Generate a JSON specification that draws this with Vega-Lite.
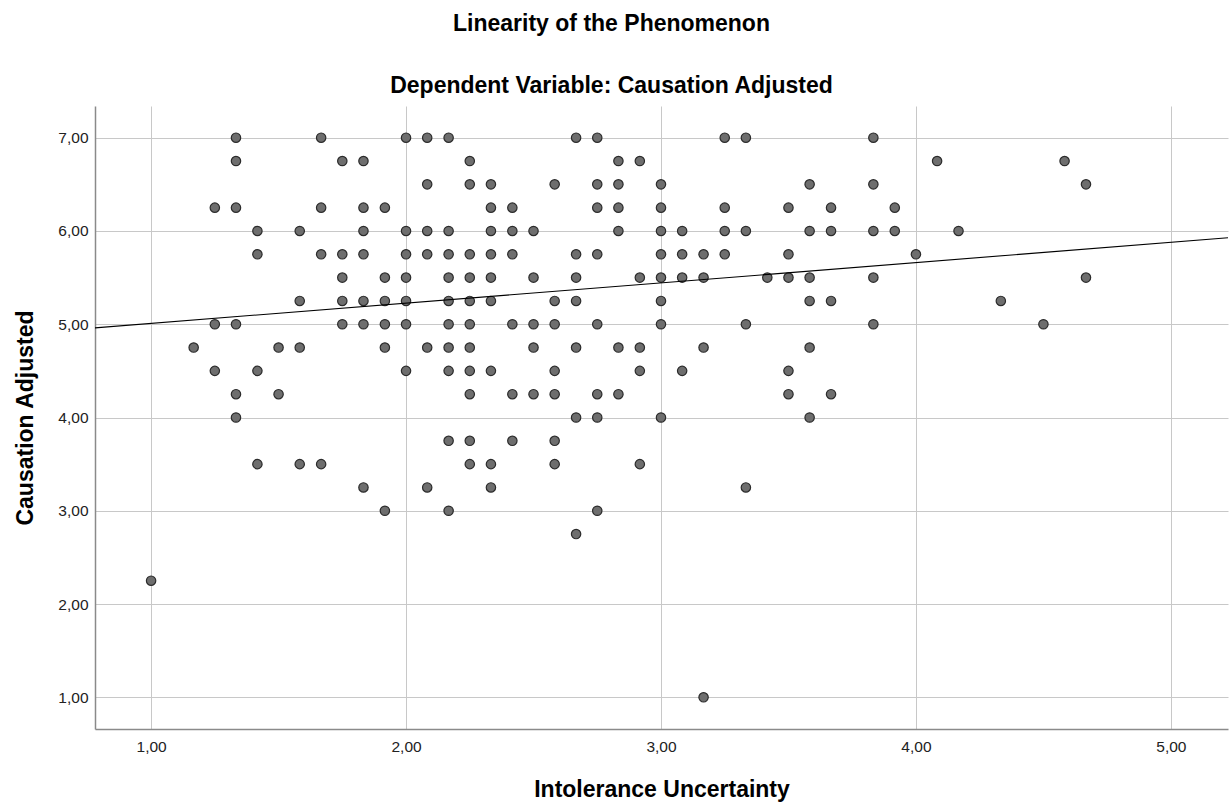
{
  "$schema": "https://vega.github.io/schema/vega-lite/v6.json",
  "width": 1133,
  "height": 623,
  "autosize": {"type": "none"},
  "padding": {"left": 95, "top": 106, "right": 2, "bottom": 77},
  "background": "white",
  "config": {
    "view": {"stroke": null},
    "font": "Liberation Sans"
  },
  "title": {
    "text": "Linearity of the Phenomenon",
    "subtitle": "Dependent Variable: Causation Adjusted",
    "anchor": "middle",
    "dx": -50,
    "offset": 8,
    "font": "Liberation Sans",
    "fontSize": 23,
    "fontWeight": "bold",
    "color": "#000000",
    "subtitleFont": "Liberation Sans",
    "subtitleFontSize": 23,
    "subtitleFontWeight": "bold",
    "subtitleColor": "#000000",
    "subtitlePadding": 39
  },
  "datasets": {
    "points": [
      {"iu":1.333,"ca":7},{"iu":1.667,"ca":7},{"iu":2.0,"ca":7},{"iu":2.083,"ca":7},{"iu":2.167,"ca":7},{"iu":2.667,"ca":7},{"iu":2.75,"ca":7},{"iu":3.25,"ca":7},{"iu":3.333,"ca":7},{"iu":3.833,"ca":7},
      {"iu":1.333,"ca":6.75},{"iu":1.75,"ca":6.75},{"iu":1.833,"ca":6.75},{"iu":2.25,"ca":6.75},{"iu":2.833,"ca":6.75},{"iu":2.917,"ca":6.75},{"iu":4.083,"ca":6.75},{"iu":4.583,"ca":6.75},
      {"iu":2.083,"ca":6.5},{"iu":2.25,"ca":6.5},{"iu":2.333,"ca":6.5},{"iu":2.583,"ca":6.5},{"iu":2.75,"ca":6.5},{"iu":2.833,"ca":6.5},{"iu":3.0,"ca":6.5},{"iu":3.583,"ca":6.5},{"iu":3.833,"ca":6.5},{"iu":4.667,"ca":6.5},
      {"iu":1.25,"ca":6.25},{"iu":1.333,"ca":6.25},{"iu":1.667,"ca":6.25},{"iu":1.833,"ca":6.25},{"iu":1.917,"ca":6.25},{"iu":2.333,"ca":6.25},{"iu":2.417,"ca":6.25},{"iu":2.75,"ca":6.25},{"iu":2.833,"ca":6.25},{"iu":3.0,"ca":6.25},{"iu":3.25,"ca":6.25},{"iu":3.5,"ca":6.25},{"iu":3.667,"ca":6.25},{"iu":3.917,"ca":6.25},
      {"iu":1.417,"ca":6},{"iu":1.583,"ca":6},{"iu":1.833,"ca":6},{"iu":2.0,"ca":6},{"iu":2.083,"ca":6},{"iu":2.167,"ca":6},{"iu":2.333,"ca":6},{"iu":2.417,"ca":6},{"iu":2.5,"ca":6},{"iu":2.833,"ca":6},{"iu":3.0,"ca":6},{"iu":3.083,"ca":6},{"iu":3.25,"ca":6},{"iu":3.333,"ca":6},{"iu":3.583,"ca":6},{"iu":3.667,"ca":6},{"iu":3.833,"ca":6},{"iu":3.917,"ca":6},{"iu":4.167,"ca":6},
      {"iu":1.417,"ca":5.75},{"iu":1.667,"ca":5.75},{"iu":1.75,"ca":5.75},{"iu":1.833,"ca":5.75},{"iu":2.0,"ca":5.75},{"iu":2.083,"ca":5.75},{"iu":2.167,"ca":5.75},{"iu":2.25,"ca":5.75},{"iu":2.333,"ca":5.75},{"iu":2.417,"ca":5.75},{"iu":2.667,"ca":5.75},{"iu":2.75,"ca":5.75},{"iu":3.0,"ca":5.75},{"iu":3.083,"ca":5.75},{"iu":3.167,"ca":5.75},{"iu":3.25,"ca":5.75},{"iu":3.5,"ca":5.75},{"iu":4.0,"ca":5.75},
      {"iu":1.75,"ca":5.5},{"iu":1.917,"ca":5.5},{"iu":2.0,"ca":5.5},{"iu":2.167,"ca":5.5},{"iu":2.25,"ca":5.5},{"iu":2.333,"ca":5.5},{"iu":2.5,"ca":5.5},{"iu":2.667,"ca":5.5},{"iu":2.917,"ca":5.5},{"iu":3.0,"ca":5.5},{"iu":3.083,"ca":5.5},{"iu":3.167,"ca":5.5},{"iu":3.417,"ca":5.5},{"iu":3.5,"ca":5.5},{"iu":3.583,"ca":5.5},{"iu":3.833,"ca":5.5},{"iu":4.667,"ca":5.5},
      {"iu":1.583,"ca":5.25},{"iu":1.75,"ca":5.25},{"iu":1.833,"ca":5.25},{"iu":1.917,"ca":5.25},{"iu":2.0,"ca":5.25},{"iu":2.167,"ca":5.25},{"iu":2.25,"ca":5.25},{"iu":2.333,"ca":5.25},{"iu":2.583,"ca":5.25},{"iu":2.667,"ca":5.25},{"iu":3.0,"ca":5.25},{"iu":3.583,"ca":5.25},{"iu":3.667,"ca":5.25},{"iu":4.333,"ca":5.25},
      {"iu":1.25,"ca":5},{"iu":1.333,"ca":5},{"iu":1.75,"ca":5},{"iu":1.833,"ca":5},{"iu":1.917,"ca":5},{"iu":2.0,"ca":5},{"iu":2.167,"ca":5},{"iu":2.25,"ca":5},{"iu":2.417,"ca":5},{"iu":2.5,"ca":5},{"iu":2.583,"ca":5},{"iu":2.75,"ca":5},{"iu":3.0,"ca":5},{"iu":3.333,"ca":5},{"iu":3.833,"ca":5},{"iu":4.5,"ca":5},
      {"iu":1.167,"ca":4.75},{"iu":1.5,"ca":4.75},{"iu":1.583,"ca":4.75},{"iu":1.917,"ca":4.75},{"iu":2.083,"ca":4.75},{"iu":2.167,"ca":4.75},{"iu":2.25,"ca":4.75},{"iu":2.5,"ca":4.75},{"iu":2.667,"ca":4.75},{"iu":2.833,"ca":4.75},{"iu":2.917,"ca":4.75},{"iu":3.167,"ca":4.75},{"iu":3.583,"ca":4.75},
      {"iu":1.25,"ca":4.5},{"iu":1.417,"ca":4.5},{"iu":2.0,"ca":4.5},{"iu":2.167,"ca":4.5},{"iu":2.25,"ca":4.5},{"iu":2.333,"ca":4.5},{"iu":2.583,"ca":4.5},{"iu":2.917,"ca":4.5},{"iu":3.083,"ca":4.5},{"iu":3.5,"ca":4.5},
      {"iu":1.333,"ca":4.25},{"iu":1.5,"ca":4.25},{"iu":2.25,"ca":4.25},{"iu":2.417,"ca":4.25},{"iu":2.5,"ca":4.25},{"iu":2.583,"ca":4.25},{"iu":2.75,"ca":4.25},{"iu":2.833,"ca":4.25},{"iu":3.5,"ca":4.25},{"iu":3.667,"ca":4.25},
      {"iu":1.333,"ca":4},{"iu":2.667,"ca":4},{"iu":2.75,"ca":4},{"iu":3.0,"ca":4},{"iu":3.583,"ca":4},
      {"iu":2.167,"ca":3.75},{"iu":2.25,"ca":3.75},{"iu":2.417,"ca":3.75},{"iu":2.583,"ca":3.75},
      {"iu":1.417,"ca":3.5},{"iu":1.583,"ca":3.5},{"iu":1.667,"ca":3.5},{"iu":2.25,"ca":3.5},{"iu":2.333,"ca":3.5},{"iu":2.583,"ca":3.5},{"iu":2.917,"ca":3.5},
      {"iu":1.833,"ca":3.25},{"iu":2.083,"ca":3.25},{"iu":2.333,"ca":3.25},{"iu":3.333,"ca":3.25},
      {"iu":1.917,"ca":3},{"iu":2.167,"ca":3},{"iu":2.75,"ca":3},
      {"iu":2.667,"ca":2.75},
      {"iu":1.0,"ca":2.25},
      {"iu":3.167,"ca":1}
    ],
    "fit": [
      {"iu":0.78,"ca":4.961},
      {"iu":5.224,"ca":5.927}
    ]
  },
  "encoding": {
    "x": {
      "field": "iu",
      "type": "quantitative",
      "title": "Intolerance Uncertainty",
      "scale": {"domain": [0.78, 5.224], "nice": false, "zero": false},
      "axis": {
        "values": [1, 2, 3, 4, 5],
        "labelExpr": "replace(format(datum.value, '.2f'), '.', ',')",
        "grid": true,
        "gridColor": "#c8c8c8",
        "gridWidth": 1,
        "ticks": false,
        "domainColor": "#8a8a8a",
        "domainWidth": 1.5,
        "labelFont": "Liberation Sans",
        "labelFontSize": 15.5,
        "labelColor": "#222222",
        "labelPadding": 10,
        "titleFont": "Liberation Sans",
        "titleFontSize": 23,
        "titleFontWeight": "bold",
        "titleColor": "#000000",
        "titlePadding": 24
      }
    },
    "y": {
      "field": "ca",
      "type": "quantitative",
      "title": "Causation Adjusted",
      "scale": {"domain": [0.66, 7.34], "nice": false, "zero": false},
      "axis": {
        "values": [1, 2, 3, 4, 5, 6, 7],
        "labelExpr": "replace(format(datum.value, '.2f'), '.', ',')",
        "grid": true,
        "gridColor": "#c8c8c8",
        "gridWidth": 1,
        "ticks": false,
        "domainColor": "#8a8a8a",
        "domainWidth": 1.5,
        "labelFont": "Liberation Sans",
        "labelFontSize": 15.5,
        "labelColor": "#222222",
        "labelPadding": 7,
        "titleFont": "Liberation Sans",
        "titleFontSize": 23,
        "titleFontWeight": "bold",
        "titleColor": "#000000",
        "titlePadding": 20
      }
    }
  },
  "layer": [
    {
      "data": {"name": "points"},
      "mark": {"type": "point", "filled": true, "shape": "circle", "size": 88, "fill": "#6e6e6e", "stroke": "#2b2b2b", "strokeWidth": 1.2, "opacity": 1}
    },
    {
      "data": {"name": "fit"},
      "mark": {"type": "line", "color": "#000000", "strokeWidth": 1.1}
    }
  ]
}
